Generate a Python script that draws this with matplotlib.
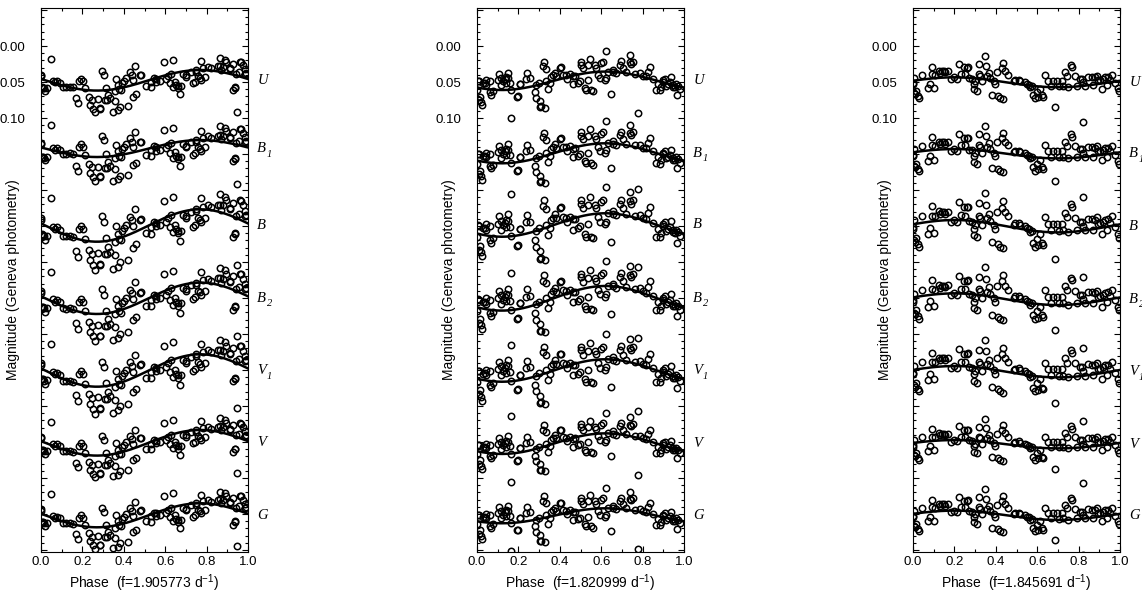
import matplotlib.pyplot as plt
import numpy as np
from matplotlib.ticker import MultipleLocator, FuncFormatter
from matplotlib.transforms import blended_transform_factory

plt.rcParams['font.family'] = ['Liberation Sans', 'DejaVu Sans']

# Фильтры Женевской фотометрии (сверху вниз): буква и индекс
filters = ['U', 'B', 'B', 'B', 'V', 'V', 'G']
subscripts = ['', '1', '', '2', '1', '', '']
freqs = ['1.905773', '1.820999', '1.845691']

# Параметры синусоид: средний уровень и полуамплитуда (mag), фаза минимума блеска
means = [
    [0.0476, 0.1424, 0.2493, 0.3504, 0.4507, 0.5511, 0.6518],
    [0.0483, 0.1490, 0.2486, 0.3504, 0.4507, 0.5523, 0.6525],
    [0.0504, 0.1496, 0.2503, 0.3517, 0.4524, 0.5531, 0.6518],
]
amps = [
    [0.0143, 0.0118, 0.0225, 0.0218, 0.0225, 0.0178, 0.0167],
    [0.0128, 0.0139, 0.0163, 0.0171, 0.0156, 0.0143, 0.0104],
    [0.0069, 0.0065, 0.0086, 0.0081, 0.0079, 0.0058, 0.0065],
]
faint_phase = [0.27, 0.12, 0.70]

# Разброс остатков по фильтрам
scatter = [1.0, 1.1, 1.3, 1.25, 1.25, 1.0, 1.0]

# Фазы наблюдений и остатки относительно синусоиды (ммаг), f1
phase1 = [0.000, 0.002, 0.006, 0.013, 0.021, 0.027, 0.047, 0.058, 0.066, 0.077,
          0.090, 0.106, 0.122, 0.138, 0.155, 0.171, 0.179, 0.184, 0.195, 0.203,
          0.213, 0.238, 0.248, 0.259, 0.275, 0.283, 0.295, 0.303, 0.312, 0.319,
          0.325, 0.332, 0.348, 0.356, 0.364, 0.370, 0.377, 0.380, 0.393, 0.401,
          0.409, 0.420, 0.428, 0.438, 0.444, 0.454, 0.461, 0.477, 0.485, 0.509,
          0.533, 0.544, 0.557, 0.573, 0.593, 0.605, 0.614, 0.622, 0.630, 0.638,
          0.646, 0.654, 0.662, 0.670, 0.678, 0.686, 0.702, 0.726, 0.734, 0.742,
          0.750, 0.758, 0.767, 0.775, 0.783, 0.791, 0.823, 0.855, 0.863, 0.871,
          0.879, 0.887, 0.895, 0.911, 0.928, 0.936, 0.944, 0.948, 0.957, 0.963,
          0.976, 0.984, 0.992,
          0.010, 0.232, 0.251, 0.285, 0.308, 0.356, 0.372, 0.388, 0.444, 0.533,
          0.557, 0.638, 0.662, 0.702, 0.750, 0.771, 0.807, 0.863, 0.911, 0.928,
          0.936, 0.968, 0.984]
resid1 = [-6, -4, 11, 12, 15, 10, -32, -3, -1, -4,
          -3, 2, 1, -1, -1, 13, 19, -11, -15, -12,
          -2, 20, 13, 30, 12, 24, -27, -21, -3, 14,
          7, 12, 31, 3, -14, -5, 1, 26, -7, -9,
          -12, 27, -19, -14, -7, -25, 14, -11, -11, 7,
          3, -1, 1, 5, -19, 5, 2, 12, 0, -19,
          12, 17, 19, 31, 20, 4, 8, 2, 18, 16,
          0, 9, 11, -12, -3, 9, -3, -7, -19, -3,
          -8, -18, -15, -8, -15, 18, -2, 50, -6, -21,
          -17, -6, -8,
          11, 9, 25, 25, 14, 17, 30, 3, 16, 10,
          5, 19, 22, 6, 2, 14, -5, -8, -7, 22,
          17, -21, -12]

# f2
phase2 = [0.000, 0.005, 0.010, 0.016, 0.021, 0.026, 0.029, 0.037, 0.045, 0.061,
          0.069, 0.077, 0.106, 0.118, 0.126, 0.134, 0.142, 0.150, 0.158, 0.150,
          0.163, 0.166, 0.193, 0.198, 0.206, 0.242, 0.254, 0.279, 0.287, 0.300,
          0.303, 0.311, 0.327, 0.319, 0.332, 0.335, 0.343, 0.351, 0.359, 0.375,
          0.383, 0.399, 0.407, 0.415, 0.428, 0.435, 0.448, 0.464, 0.472, 0.488,
          0.496, 0.504, 0.512, 0.520, 0.528, 0.536, 0.544, 0.552, 0.560, 0.568,
          0.576, 0.585, 0.593, 0.601, 0.609, 0.617, 0.625, 0.633, 0.649, 0.657,
          0.673, 0.689, 0.697, 0.705, 0.721, 0.738, 0.746, 0.762, 0.778, 0.786,
          0.802, 0.818, 0.834, 0.850, 0.874, 0.882, 0.890, 0.899, 0.907, 0.915,
          0.923, 0.931, 0.939, 0.947, 0.955, 0.963, 0.971, 0.979,
          0.010, 0.042, 0.061, 0.101, 0.118, 0.142, 0.206, 0.238, 0.287, 0.303,
          0.322, 0.367, 0.464, 0.504, 0.536, 0.625, 0.657, 0.738, 0.754, 0.826,
          0.866, 0.899, 0.947, 0.966]
resid2 = [4, -9, 17, 12, 19, 23, -7, -8, -6, 4,
          7, 2, -22, -17, -12, -15, -10, -17, -10, -24,
          39, 0, 11, 10, -6, -20, -12, 9, 0, -2,
          31, 31, 34, -24, -20, -3, 9, 2, -6, -11,
          -6, -16, -16, -5, -3, 2, -3, 12, 1, 12,
          10, -13, -8, 20, 23, -11, -19, 24, 26, -10,
          -6, 4, 9, -12, -14, 12, 9, 0, 31, -3,
          1, -11, -16, -7, -2, -16, -14, -2, 52, -4,
          -2, -2, -16, -1, 4, 12, 7, -3, -6, 3,
          0, -3, -10, 0, 2, -2, 0, 4,
          -9, -12, -11, -14, -7, -18, -6, -12, 17, 23,
          -30, -8, 1, -17, 10, -28, 0, -26, -18, -9,
          13, -1, 2, 12]

# f3
phase3 = [0.000, 0.000, 0.003, 0.006, 0.011, 0.016, 0.024, 0.031, 0.043, 0.071,
          0.084, 0.092, 0.100, 0.092, 0.108, 0.124, 0.132, 0.140, 0.148, 0.156,
          0.169, 0.185, 0.196, 0.212, 0.223, 0.233, 0.244, 0.252, 0.260, 0.268,
          0.272, 0.285, 0.293, 0.297, 0.301, 0.309, 0.317, 0.320, 0.325, 0.333,
          0.349, 0.354, 0.357, 0.365, 0.373, 0.381, 0.389, 0.397, 0.405, 0.413,
          0.421, 0.429, 0.437, 0.437, 0.445, 0.461, 0.486, 0.494, 0.510, 0.518,
          0.542, 0.550, 0.558, 0.566, 0.574, 0.582, 0.590, 0.598, 0.606, 0.614,
          0.622, 0.630, 0.638, 0.654, 0.667, 0.678, 0.686, 0.695, 0.703, 0.719,
          0.727, 0.735, 0.743, 0.751, 0.764, 0.770, 0.783, 0.791, 0.807, 0.815,
          0.823, 0.823, 0.831, 0.847, 0.863, 0.871, 0.879, 0.887, 0.895, 0.904,
          0.912, 0.920, 0.928, 0.936, 0.944, 0.952, 0.960, 0.976, 0.989, 0.995]
resid3 = [3, 5, -4, 17, 19, 15, 22, 25, -7, 13,
          7, -6, 13, -16, -5, -10, -7, -9, -9, -7,
          -9, 2, 0, 2, -19, -5, -14, -5, -14, -15,
          0, 1, 8, 15, 4, 17, -6, -20, -4, 3,
          -32, -19, -5, -10, -3, 20, 1, 5, -13, 21,
          23, -19, -26, 24, -15, -11, -3, -5, -6, -4,
          -4, -2, -1, 2, 0, 13, 17, 8, 15, 3,
          12, 14, -16, -9, -2, -9, 28, -9, -2, -9,
          -2, -21, -16, 0, -30, -27, -15, -1, -10, -10,
          -5, 50, 0, -12, -11, 1, -10, -12, -5, -5,
          7, -6, -8, 3, -8, -3, -10, 2, 10, 14]

phases = [phase1, phase2, phase3]
resids = [resid1, resid2, resid3]


def ytick_text(v, pos):
    # подписываем только три верхних деления, как в оригинале
    if -0.001 < v < 0.12:
        return f'{abs(v):.2f}'
    return ''


W, H = 1142, 594
fig = plt.figure(figsize=(W / 100, H / 100), dpi=100)
lefts = [41, 477, 913]
phi = np.linspace(0, 1, 300)
serif = ['Liberation Serif', 'DejaVu Serif']

for k in range(3):
    ax = fig.add_axes([lefts[k] / W, 42 / H, 207 / W, 544 / H])
    ph = np.array(phases[k])
    rs = np.array(resids[k]) / 1000.0
    tr = blended_transform_factory(ax.transAxes, ax.transData)
    for i in range(7):
        m, a = means[k][i], amps[k][i]
        fit = m + a * np.cos(2 * np.pi * (phi - faint_phase[k]))
        ax.plot(phi, fit, color='black', lw=1.8, zorder=3)
        pts = m + a * np.cos(2 * np.pi * (ph - faint_phase[k])) + scatter[i] * rs
        ax.plot(ph, pts, 'o', mfc='none', mec='black', ms=4.6, mew=1.1,
                zorder=2)
        ax.text(1.045, m, filters[i], transform=tr, ha='left', va='center',
                fontsize=10.5, family=serif, style='italic')
        if subscripts[i]:
            ax.annotate(subscripts[i], xy=(1.045, m), xycoords=tr,
                        xytext=(7.0, -4.0), textcoords='offset points',
                        ha='left', va='center', fontsize=7.5, family=serif,
                        style='italic')

    ax.set_xlim(0, 1.0)
    ax.set_ylim(0.7028, -0.0528)
    ax.xaxis.set_major_locator(MultipleLocator(0.2))
    ax.xaxis.set_minor_locator(MultipleLocator(0.1))
    ax.yaxis.set_major_locator(MultipleLocator(0.05))
    ax.yaxis.set_minor_locator(MultipleLocator(0.01))
    ax.xaxis.set_major_formatter(FuncFormatter(lambda v, p: f'{v:.1f}'))
    ax.yaxis.set_major_formatter(FuncFormatter(ytick_text))
    ax.tick_params(which='both', direction='in', top=True, right=True,
                   width=0.8, labelsize=9.5)
    ax.tick_params(which='major', length=4.5)
    ax.tick_params(which='minor', length=2.5)
    ax.tick_params(axis='y', pad=11)
    ax.tick_params(axis='x', pad=3)
    for s in ax.spines.values():
        s.set_linewidth(0.8)

    ax.set_xlabel('Phase  (f=' + freqs[k] + ' d$^{\\mathregular{-1}}$)',
                  fontsize=10, labelpad=3)
    ax.text((13 - 41) / 207, 0.5, 'Magnitude (Geneva photometry)',
            transform=ax.transAxes, rotation=90, ha='center', va='center',
            fontsize=10)

fig.savefig('out.png', dpi=100)
